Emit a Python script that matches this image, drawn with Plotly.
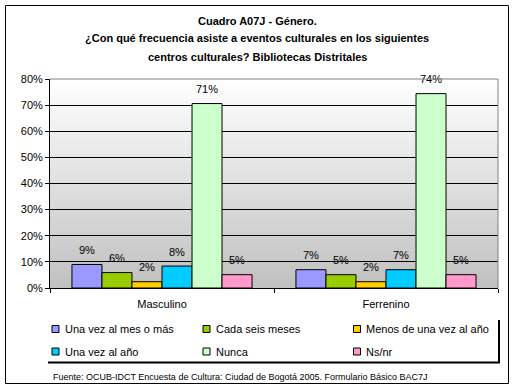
import base64
import plotly.graph_objects as go

categories = ["Masculino", "Ferrenino"]
series_names = ["Una vez al mes o más", "Cada seis meses", "Menos de una vez al año",
                "Una vez al año", "Nunca", "Ns/nr"]
masculino = [9.0, 5.9, 2.4, 8.4, 70.6, 5.1]
femenino = [7.0, 5.1, 2.4, 7.0, 74.4, 5.1]
colors = ["#9999FF", "#99CC00", "#FFCC00", "#00CCFF", "#CCFFCC", "#FF99CC"]
y_ticks = [0, 10, 20, 30, 40, 50, 60, 70, 80]
title_lines = ["Cuadro A07J - Género.",
               "¿Con qué frecuencia asiste a eventos culturales en los siguientes",
               "centros culturales? Bibliotecas Distritales"]
source_text = "Fuente: OCUB-IDCT Encuesta de Cultura: Ciudad de Bogotá 2005. Formulario Básico BAC7J"

W, H = 515, 391
L, R, T, B = 50, 17, 79, 103
FONT = "Liberation Sans, Arial, sans-serif"


def px(x):
    return (x - L) / (W - L - R)


def py(y):
    return (H - B - y) / (H - T - B)


fig = go.Figure()
for i, name in enumerate(series_names):
    fig.add_trace(go.Bar(
        x=categories, y=[masculino[i], femenino[i]], name=name,
        marker=dict(color=colors[i], line=dict(color="black", width=1)),
        texttemplate="<span style='font-size:11px'>%{y:.0f}%</span><br> ",
        textposition="outside",
        textfont=dict(size=5, color="black", family=FONT),
        cliponaxis=False, showlegend=False, hoverinfo="skip",
    ))

svg = ('<svg xmlns="http://www.w3.org/2000/svg" width="100" height="100" viewBox="0 0 100 100" '
       'preserveAspectRatio="none"><defs><linearGradient id="g" x1="0" y1="0" x2="0" y2="1">'
       '<stop offset="0" stop-color="#ffffff"/><stop offset="1" stop-color="#c0c0c0"/>'
       '</linearGradient></defs><rect width="100" height="100" fill="url(#g)"/></svg>')
src = "data:image/svg+xml;base64," + base64.b64encode(svg.encode()).decode()

shapes = []
annotations = []
# outer border
shapes.append(dict(type="rect", xref="paper", yref="paper", x0=px(5.5), x1=px(508.5),
                   y0=py(383.5), y1=py(5.5), line=dict(color="black", width=1), layer="above"))
# plot area top/right border (gray)
shapes.append(dict(type="line", xref="paper", yref="paper", x0=0, x1=1, y0=1, y1=1,
                   line=dict(color="#808080", width=1), layer="above"))
shapes.append(dict(type="line", xref="paper", yref="paper", x0=1, x1=1, y0=0, y1=1,
                   line=dict(color="#808080", width=1), layer="above"))
# legend shadow
shapes.append(dict(type="line", xref="paper", yref="paper", x0=px(499), x1=px(499),
                   y0=py(363), y1=py(320), line=dict(color="black", width=2)))
shapes.append(dict(type="line", xref="paper", yref="paper", x0=px(48), x1=px(500),
                   y0=py(362.5), y1=py(362.5), line=dict(color="black", width=2)))

# manual legend
col_x = [55.5, 206.5, 357]
row_y = [329, 351.5]
for i, name in enumerate(series_names):
    cx = col_x[i % 3]
    cy = row_y[i // 3]
    shapes.append(dict(type="rect", xref="paper", yref="paper",
                       x0=px(cx - 3.5), x1=px(cx + 3.5), y0=py(cy + 3.5), y1=py(cy - 3.5),
                       fillcolor=colors[i], line=dict(color="black", width=1), layer="above"))
    annotations.append(dict(text=name, xref="paper", yref="paper", x=px(cx + 7), y=py(cy),
                            xanchor="left", yanchor="middle", showarrow=False,
                            font=dict(size=11, color="black", family=FONT)))

# title
for j, line in enumerate(title_lines):
    annotations.append(dict(text="<b>" + line + "</b>", xref="paper", yref="paper",
                            x=px(257), y=py(21 + 18 * j), xanchor="center", yanchor="middle",
                            showarrow=False, font=dict(size=11, color="black", family=FONT)))
# source
annotations.append(dict(text=source_text, xref="paper", yref="paper", x=px(51), y=py(377),
                        xanchor="left", yanchor="middle", showarrow=False,
                        font=dict(size=9, color="black", family=FONT)))

fig.update_layout(
    width=W, height=H,
    margin=dict(l=L, r=R, t=T, b=B),
    paper_bgcolor="white", plot_bgcolor="rgba(0,0,0,0)",
    barmode="group", bargap=0.196, bargroupgap=0,
    font=dict(family=FONT, size=11, color="black"),
    shapes=shapes, annotations=annotations,
    images=[dict(source=src, xref="x domain", yref="y domain", x=0, y=1, sizex=1, sizey=1,
                 sizing="stretch", layer="below", xanchor="left", yanchor="top")],
    xaxis=dict(type="category", tickson="boundaries", ticks="outside", ticklen=4,
               tickcolor="black", showline=True, linecolor="black", linewidth=1,
               showgrid=False, tickfont=dict(size=11, color="black"), fixedrange=True,
               ticklabelstandoff=6),
    yaxis=dict(range=[0, 80], tickvals=y_ticks, ticktext=[f"{v}%" for v in y_ticks],
               ticks="outside", ticklen=4, tickcolor="black", showline=True,
               linecolor="black", linewidth=1, showgrid=True, gridcolor="black",
               gridwidth=1, zeroline=False, tickfont=dict(size=11, color="black"),
               fixedrange=True),
    hovermode=False,
)

fig.write_html("out.html", config={"displayModeBar": False},
               post_script="document.body.style.margin='0';")
